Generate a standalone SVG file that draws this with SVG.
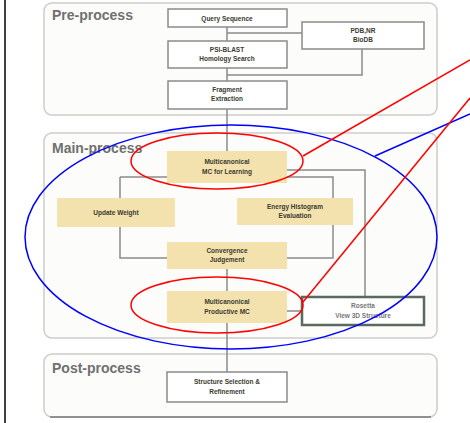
<svg xmlns="http://www.w3.org/2000/svg" width="470" height="423" viewBox="0 0 470 423">
<style>
.panel{fill:#fcfcfa;stroke:#cdcdc9;stroke-width:1.5}
.ptitle{font-family:"Liberation Sans",Arial,sans-serif;font-size:14px;font-weight:bold;fill:#707070}
.box{fill:#ffffff;stroke:#8a8a8a;stroke-width:1.5}
.tan{fill:#f3e2ae;stroke:none}
.dark{fill:#ffffff;stroke:#5a6a5e;stroke-width:2.5}
.t{font-family:"Liberation Sans",Arial,sans-serif;font-size:6.5px;font-weight:bold;fill:#3a3a30;text-anchor:middle}
.c{fill:none;stroke:#8a8a8a;stroke-width:1.5}
.red{fill:none;stroke:#ff0000;stroke-width:1.5}
.blue{fill:none;stroke:#0000ff;stroke-width:1.5}
</style>
<rect width="470" height="423" fill="#ffffff"/>
<line x1="5" y1="0" x2="5" y2="423" stroke="#000" stroke-width="1.5"/>
<g id="panels">
<rect class="panel" x="44" y="3" width="393" height="112" rx="8"/>
<text class="ptitle" x="52" y="20">Pre-process</text>
<rect class="panel" x="44" y="133" width="393" height="205" rx="8"/>
<text class="ptitle" x="52" y="153">Main-process</text>
<rect class="panel" x="44" y="354" width="393" height="63" rx="8"/>
<line x1="50" y1="417" x2="431" y2="417" stroke="#777" stroke-width="1.5"/>
<text class="ptitle" x="52" y="373">Post-process</text>
</g>
<g id="connectors">
<path class="c" d="M227 27V41M227 68V81M227 109V151"/>
<path class="c" d="M227 33H302M362 49V75H227"/>
<path class="c" d="M120 177H167M287 177H333V258H287M167 258H120V177"/>
<path class="c" d="M287 170H365V297"/>
<path class="c" d="M227 269V291M227 323V372M287 311H302"/>
</g>
<g id="query"><rect class="box" x="168" y="9" width="119" height="18"/><text class="t" x="227" y="20.5">Query Sequence</text></g>
<g id="pdb"><rect class="box" x="302" y="22" width="122" height="27"/><text class="t" x="363" y="33">PDB,NR</text><text class="t" x="363" y="42">BioDB</text></g>
<g id="psiblast"><rect class="box" x="168" y="41" width="119" height="27"/><text class="t" x="227" y="52">PSI-BLAST</text><text class="t" x="227" y="61">Homology Search</text></g>
<g id="fragment"><rect class="box" x="168" y="81" width="119" height="28"/><text class="t" x="227" y="92">Fragment</text><text class="t" x="227" y="101">Extraction</text></g>
<g id="mclearn"><rect class="tan" x="167" y="151" width="120" height="32"/><text class="t" x="227" y="164">Multicanonical</text><text class="t" x="227" y="174">MC for Learning</text></g>
<g id="update"><rect class="tan" x="57" y="198" width="118" height="29"/><text class="t" x="116" y="214.5">Update Weight</text></g>
<g id="energy"><rect class="tan" x="237" y="198" width="116" height="27"/><text class="t" x="295" y="209">Energy Histogram</text><text class="t" x="295" y="218">Evaluation</text></g>
<g id="converge"><rect class="tan" x="167" y="242" width="120" height="27"/><text class="t" x="227" y="253">Convergence</text><text class="t" x="227" y="262">Judgement</text></g>
<g id="mcprod"><rect class="tan" x="167" y="291" width="120" height="32"/><text class="t" x="227" y="304">Multicanonical</text><text class="t" x="227" y="314">Productive MC</text></g>
<g id="rosetta"><rect class="dark" x="302" y="297" width="122" height="28"/><text class="t" x="363" y="308" style="fill:#777">Rosetta</text><text class="t" x="363" y="318" style="fill:#777">View 3D Structure</text></g>
<g id="select"><rect class="box" x="167" y="372" width="120" height="30"/><text class="t" x="227" y="384">Structure Selection &amp;</text><text class="t" x="227" y="394">Refinement</text></g>
<g id="annotations">
<ellipse class="blue" cx="231" cy="237" rx="206" ry="112"/>
<line class="blue" x1="375" y1="156" x2="470" y2="114"/>
<ellipse class="red" cx="217" cy="161" rx="86" ry="28"/>
<line class="red" x1="303" y1="156" x2="470" y2="60"/>
<ellipse class="red" cx="217" cy="305" rx="86" ry="28"/>
<line class="red" x1="303" y1="302" x2="470" y2="98"/>
</g>
</svg>
